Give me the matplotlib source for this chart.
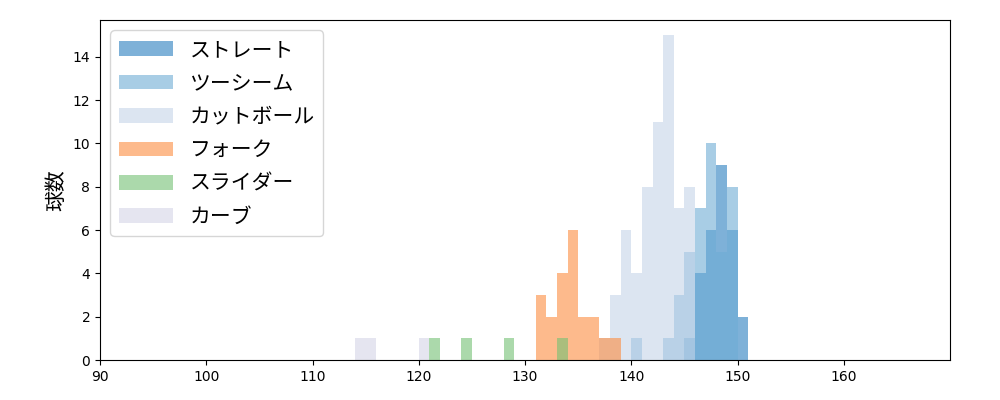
import matplotlib
matplotlib.use("Agg")
import matplotlib.pyplot as plt
import numpy as np

plt.rcParams['font.family'] = ['DejaVu Sans', 'Noto Sans CJK JP']

labels = ["ストレート", "ツーシーム", "カットボール", "フォーク", "スライダー", "カーブ"]
straight_bins = [145, 146, 147, 148, 149, 150]
straight_counts = [1, 4, 6, 9, 6, 2]
twoseam_bins = [140, 143, 144, 145, 146, 147, 148, 149]
twoseam_counts = [1, 1, 3, 5, 7, 10, 5, 8]
cut_bins = [137, 138, 139, 140, 141, 142, 143, 144, 145]
cut_counts = [1, 3, 6, 4, 8, 11, 15, 7, 8]
fork_bins = [131, 132, 133, 134, 135, 136, 137, 138]
fork_counts = [3, 2, 4, 6, 2, 2, 1, 1]
slider_bins = [121, 124, 128, 133]
slider_counts = [1, 1, 1, 1]
curve_bins = [114, 115, 120]
curve_counts = [1, 1, 1]

observed = ["#7EB1D8", "#A8CEE6", "#DCE6F2", "#FDBA8C", "#ABDAAB", "#E6E6F0"]
alpha = 0.6
def base(c):
    rgb = np.array(matplotlib.colors.to_rgb(c))
    return tuple(np.clip((rgb - (1 - alpha)) / alpha, 0, 1))

series = [(straight_bins, straight_counts), (twoseam_bins, twoseam_counts),
          (cut_bins, cut_counts), (fork_bins, fork_counts),
          (slider_bins, slider_counts), (curve_bins, curve_counts)]

fig, ax = plt.subplots(figsize=(10, 4), dpi=100)
fig.subplots_adjust(left=0.1, right=0.95, top=0.95, bottom=0.1)
for (b, c), lab, col in zip(series, labels, observed):
    ax.bar(b, c, width=1.0, align='edge', color=base(col), alpha=alpha, label=lab, linewidth=0)

ax.set_xlim(90, 170)
ax.set_ylim(0, 15.7)
ax.set_xticks(range(90, 170, 10))
ax.set_yticks(range(0, 16, 2))
ax.set_ylabel("球数", fontsize=15, family=['Noto Sans CJK JP', 'DejaVu Sans'])
ax.legend(loc='upper left', prop={'family': ['Noto Sans CJK JP', 'DejaVu Sans'], 'size': 15},
          handlelength=2.6, labelspacing=0.55)
fig.savefig("out.png")
